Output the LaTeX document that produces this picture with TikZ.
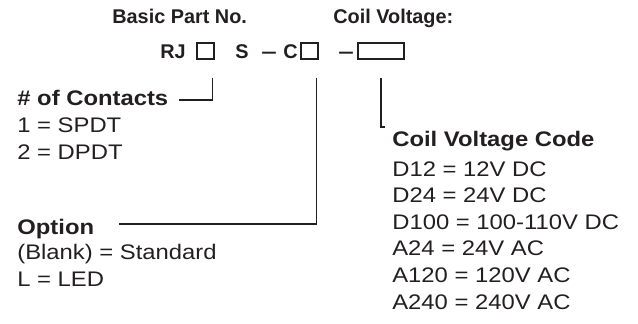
\documentclass[tikz,border=0pt]{standalone}
\usepackage{graphicx}
\usepackage{fontspec}
\setmainfont{Liberation Sans}
\newfontfamily\legendfont{Liberation Sans}[FakeStretch=1.13]
\usetikzlibrary{positioning}
\definecolor{ink}{RGB}{35,31,32}
\tikzset{
    title/.style={inner sep=0pt, anchor=base west, text=ink, font=\fontsize{11.3}{13}\selectfont\bfseries},
    slot/.style={draw=ink, line width=0.9pt, minimum height=0.32cm, inner sep=0pt},
    heading/.style={inner sep=0pt, anchor=base west, text=ink, font=\legendfont\fontsize{12}{15.1}\selectfont\bfseries},
    choices/.style={inner sep=0pt, anchor=base west, align=left, text=ink, font=\legendfont\fontsize{12}{15.1}\selectfont},
    lead/.style={draw=ink, line width=0.7pt},
}
\newcommand{\longdash}{\scalebox{1.4}[1]{\textendash}}
\begin{document}
\begin{tikzpicture}[x=0.02cm, y=-0.02cm]
    \useasboundingbox (0,0) rectangle (638,324);
    % part number
    \node [title] (basic) at (112,24) {Basic Part No.};
    \node [title] (voltage) at (333,24) {Coil Voltage:};
    \node [title] (rj) at (160,59) {RJ};
    \node [slot, minimum width=0.34cm] (box1) at (205.5,51) {};
    \node [title] (s) at (235,59) {S};
    \node [title] (dash1) at (261,59) {\longdash};
    \node [title] (c) at (283,59) {C};
    \node [slot, minimum width=0.34cm] (box2) at (309.5,51) {};
    \node [title] (dash2) at (338,59) {\longdash};
    \node [slot, minimum width=0.92cm] (box3) at (381,51) {};
    % legends (base = last line)
    \node [heading] (contacts) at (17,106) {\# of Contacts};
    \node [choices] (contactlist) at (17,159) {1 = SPDT\\2 = DPDT};
    \node [heading] (option) at (17,234) {Option};
    \node [choices] (optionlist) at (17,286) {(Blank) = Standard\\L = LED};
    \node [heading] (coilhead) at (392,147) {Coil Voltage Code};
    \node [choices] (coillist) at (392,309) {D12 = 12V DC\\D24 = 24V DC\\D100 = 100-110V DC\\A24 = 24V AC\\A120 = 120V AC\\A240 = 240V AC};
    % leads
    \draw [lead] ([shift={(-2.5,18)}]box1.south east) |- ([shift={(10,-6)}]contacts.base east);
    \draw [lead] ([shift={(-2.5,18)}]box2.south east) |- ([shift={(25,-10)}]option.base east);
    \draw [lead] ([yshift=-0.36cm]box3.south) |- ([shift={(-7,-20)}]coilhead.base west);
\end{tikzpicture}
\end{document}
